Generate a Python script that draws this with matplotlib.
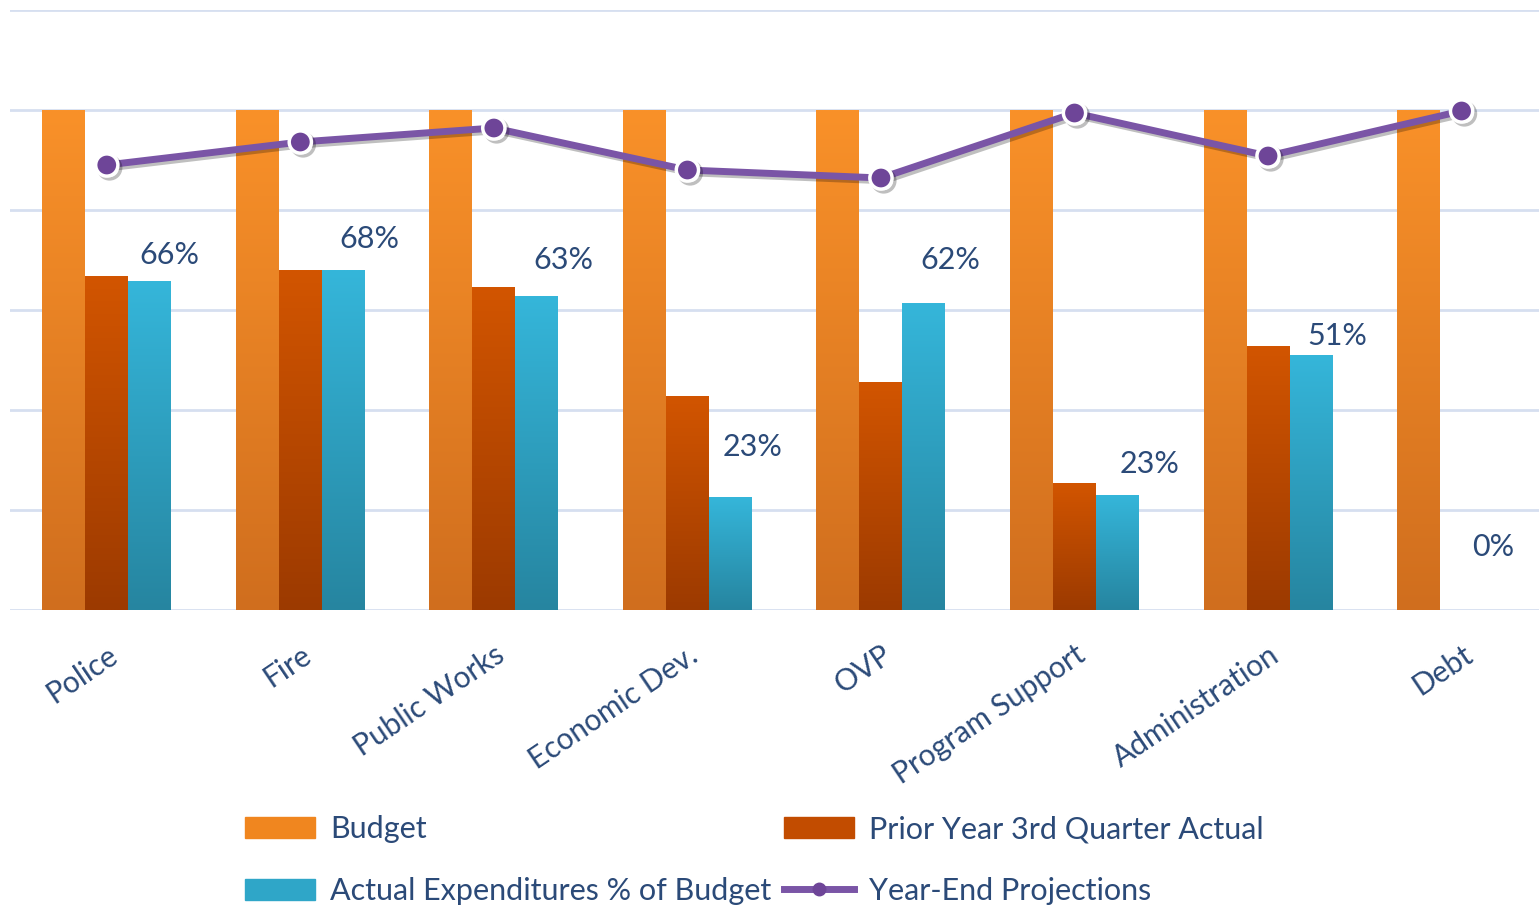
import numpy as np
import matplotlib
matplotlib.use("Agg")
import matplotlib.pyplot as plt
import matplotlib.patheffects as pe
from matplotlib.colors import LinearSegmentedColormap
from matplotlib.patches import Patch
from matplotlib.lines import Line2D

plt.rcParams['font.family'] = ['Lato', 'DejaVu Sans']

departments = ["Police", "Fire", "Public Works", "Economic Dev.", "OVP",
               "Program Support", "Administration", "Debt"]
budget = [100, 100, 100, 100, 100, 100, 100, 100]
prior_year_q3 = [66.8, 68.0, 64.6, 42.8, 45.6, 25.4, 52.8, 0]
actual_pct = [65.8, 68.0, 62.8, 22.6, 61.4, 23.0, 51.0, 0]
actual_labels = ["66%", "68%", "63%", "23%", "62%", "23%", "51%", "0%"]
year_end = [89.0, 93.6, 96.4, 88.0, 86.4, 99.4, 90.8, 99.8]

# label offsets in points (x, y) from the top of each blue bar
label_offsets = [(14, 19), (19, 22), (19, 26), (16, 36), (19, 31), (23, 22), (19, 14), (-8, 45)]

TEXT = "#2b4a78"
GRID = "#d6dff0"


def gradient_bars(ax, bars, top, bottom):
    cmap = LinearSegmentedColormap.from_list("g", [bottom, top])
    grad = np.linspace(0, 1, 256).reshape(-1, 1)
    for b in bars:
        x0, y0 = b.get_x(), b.get_y()
        w, h = b.get_width(), b.get_height()
        if h <= 0:
            continue
        im = ax.imshow(grad, cmap=cmap, origin="lower", aspect="auto",
                       extent=[x0, x0 + w, y0, y0 + h], zorder=b.get_zorder())
        im.set_clip_path(b)


fig = plt.figure(figsize=(15.39, 9.07), dpi=100)
ax = fig.add_axes([10 / 1539, 1 - 610 / 907, 1 - 10 / 1539, 600 / 907])

x = np.arange(len(departments))
w = 0.222

b1 = ax.bar(x - w, budget, w, color="#f0861f", zorder=2)
b2 = ax.bar(x, prior_year_q3, w, color="#c24c00", zorder=2)
b3 = ax.bar(x + w, actual_pct, w, color="#2fa6c8", zorder=2)
gradient_bars(ax, b1, "#f99129", "#d06e1e")
gradient_bars(ax, b2, "#d25500", "#9c3a00")
gradient_bars(ax, b3, "#35b6da", "#2685a0")

ax.plot(x, year_end, color="#7a55a6", lw=5, marker="o", ms=16,
        mfc="#6e4598", mec="white", mew=2.5, zorder=5,
        path_effects=[pe.SimpleLineShadow(offset=(2, -2), alpha=0.25), pe.Normal()])

for xi, v, lab, off in zip(x, actual_pct, actual_labels, label_offsets):
    ax.annotate(lab, (xi + w, v), xytext=off, textcoords="offset points",
                ha="center", va="center", fontsize=22, color=TEXT)

ax.set_xlim(-0.5, 7.4)
ax.set_ylim(0, 120)
ax.set_yticks(np.arange(0, 121, 20))
ax.yaxis.grid(True, color=GRID, lw=2)
ax.set_axisbelow(True)
ax.tick_params(axis="y", left=False, labelleft=False)
ax.tick_params(axis="x", length=0, pad=22)
for s in ax.spines.values():
    s.set_visible(False)

ax.set_xticks(x)
ax.set_xticklabels(departments, rotation=34, ha="right", rotation_mode="anchor",
                   fontsize=21.5, color=TEXT)

handles = [Patch(color="#f0861f"), Patch(color="#2fa6c8"), Patch(color="#c24c00"),
           Line2D([], [], color="#7a55a6", lw=5, marker="o", ms=9, mfc="#6e4598", mec="#6e4598")]
names = ["Budget", "Actual Expenditures % of Budget", "Prior Year 3rd Quarter Actual",
         "Year-End Projections"]
leg = fig.legend(handles, names, ncol=2, loc="lower left",
                 bbox_to_anchor=(217 / 1539, -0.028), frameon=False, fontsize=22,
                 handlelength=2.3, handleheight=0.7, columnspacing=0.4,
                 labelspacing=1.1, handletextpad=0.5)
for t in leg.get_texts():
    t.set_color(TEXT)

fig.savefig("out.png", dpi=100)
